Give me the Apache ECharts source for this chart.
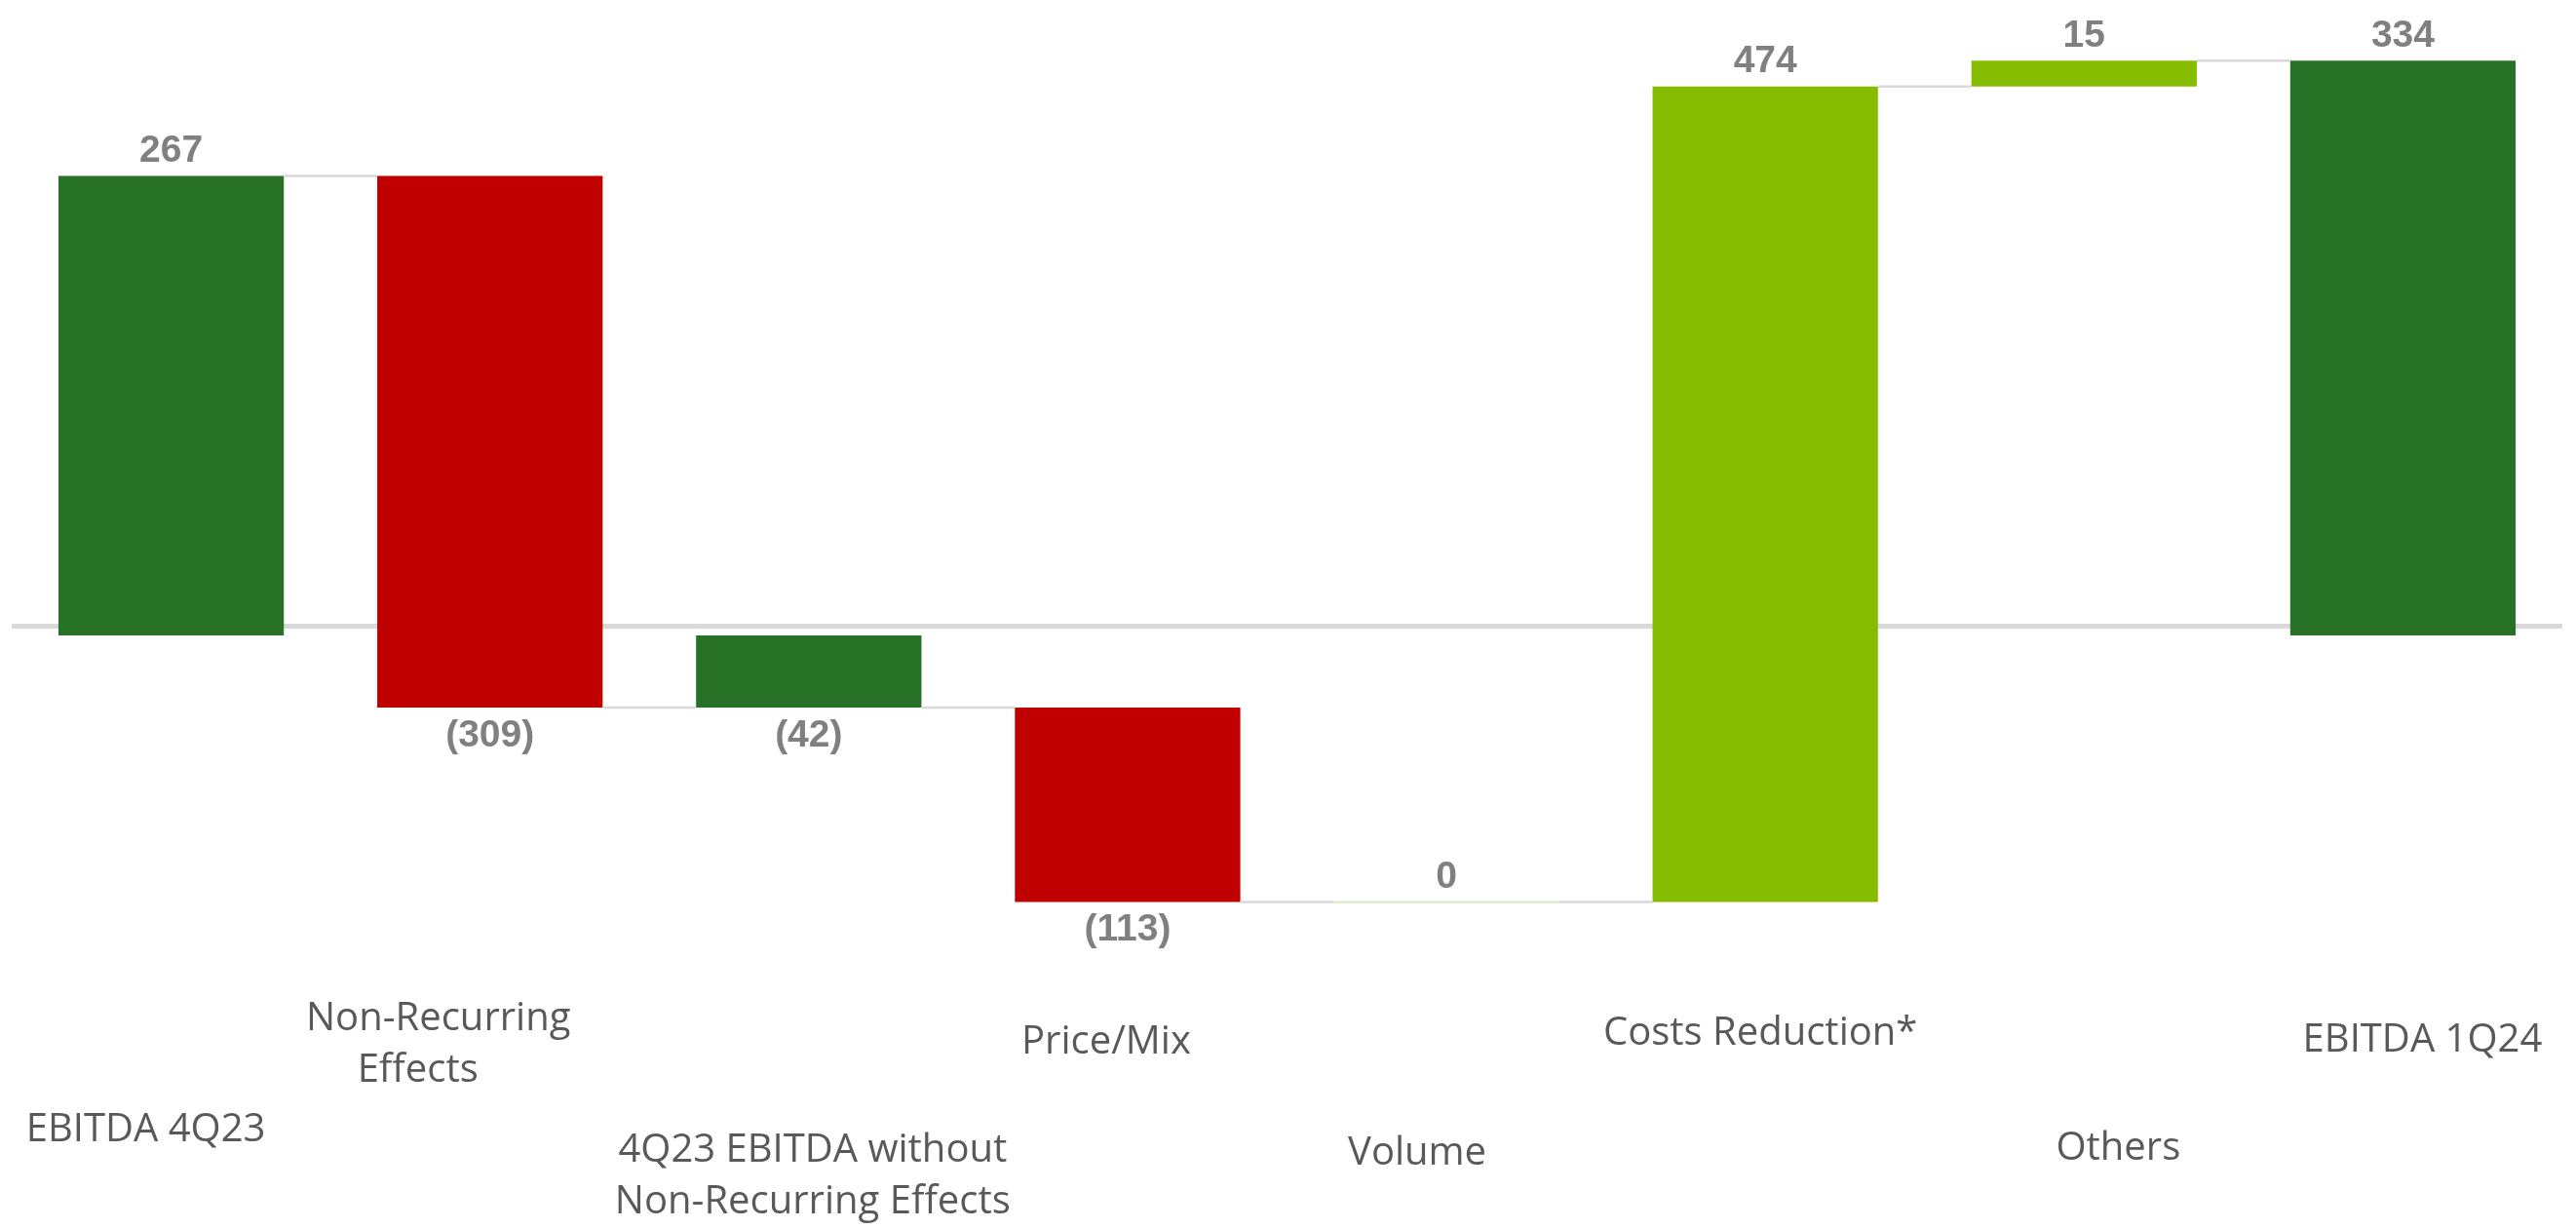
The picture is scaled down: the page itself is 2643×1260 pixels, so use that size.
<!DOCTYPE html>
<html>
<head>
<meta charset="utf-8">
<script src="https://cdn.jsdelivr.net/npm/echarts@6/dist/echarts.min.js"></script>
<style>
  html, body { margin: 0; padding: 0; background: #ffffff; }
  #chart { width: 2643px; height: 1260px; }
</style>
</head>
<body>
<div id="chart"></div>
<script>
// EBITDA bridge: 4Q23 -> 1Q24
const categories = [
  'EBITDA 4Q23',
  'Non-Recurring\nEffects',
  '4Q23 EBITDA without\nNon-Recurring Effects',
  'Price/Mix',
  'Volume',
  'Costs Reduction*',
  'Others',
  'EBITDA 1Q24'
];
const values = [267, -309, -42, -113, 0, 474, 15, 334];
const isTotal = [true, false, true, false, false, false, false, true];

// Caption layout: vertical drop below the plot and horizontal nudge per line (px)
const labelDrop = [128, 14, 149, 38, 152, 29, 147, 36];
const labelShift = [[-26], [-53, -74], [4, 4], [-22], [-30], [-5], [35], [20]];

const COLOR_TOTAL = '#287228';
const COLOR_DOWN = '#C00000';
const COLOR_UP = '#86BC00';
const COLOR_ZERO = '#dcebc8';
const COLOR_CONNECT = '#d9d9d9';
const CAPTION_FONT = { fontFamily: '"Open Sans", sans-serif', fontSize: 40, lineHeight: 53, color: '#595959' };

// running totals -> [index, start, end, value]
let running = 0;
const spans = values.map((v, i) => {
  let s, e;
  if (isTotal[i]) { s = 0; e = v; }
  else { s = running; e = running + v; }
  running = e;
  return [i, s, e, v];
});

function fmt(v) { return v < 0 ? '(' + (-v) + ')' : String(v); }

// rich styles: one per caption line so each line can be nudged on its own
const rich = {};
labelShift.forEach((lines, i) => {
  lines.forEach((dx, j) => {
    rich['c' + i + '_' + j] = Object.assign({}, CAPTION_FONT, {
      padding: dx < 0 ? [0, -2 * dx, 0, 0] : [0, 0, 0, 2 * dx]
    });
  });
});

function renderItem(params, api) {
  const i = api.value(0), s = api.value(1), e = api.value(2), v = api.value(3);
  const band = api.size([1, 0])[0];
  const w = band * 0.707;
  const p0 = api.coord([i, s]);
  const p1 = api.coord([i, e]);
  const x = p0[0] - w / 2;
  const top = Math.min(p0[1], p1[1]);
  const h = Math.abs(p1[1] - p0[1]);
  let fill;
  if (isTotal[i]) fill = COLOR_TOTAL;
  else if (v < 0) fill = COLOR_DOWN;
  else if (v > 0) fill = COLOR_UP;
  else fill = COLOR_ZERO;
  const children = [];
  if (h < 2) {
    children.push({ type: 'rect', shape: { x: x, y: p1[1] - 1, width: w, height: 2.5 }, style: { fill: fill } });
  } else {
    children.push({ type: 'rect', shape: { x: x, y: top, width: w, height: h }, style: { fill: fill } });
  }
  // connector to the next bar at the running level
  if (i < values.length - 1) {
    const nx = api.coord([i + 1, e])[0] - w / 2;
    children.push({
      type: 'line',
      shape: { x1: x + w, y1: p1[1], x2: nx, y2: p1[1] },
      style: { stroke: COLOR_CONNECT, lineWidth: 2.5 }
    });
  }
  const above = v >= 0;
  const ly = above ? top - 25 : top + h + 29;
  children.push({
    type: 'text',
    style: {
      text: fmt(v),
      x: p0[0],
      y: ly,
      align: 'center',
      verticalAlign: 'middle',
      fontFamily: '"Liberation Sans", Arial, sans-serif',
      fontWeight: 'bold',
      fontSize: 39,
      fill: '#808080'
    }
  });
  return { type: 'group', children: children };
}

const chart = echarts.init(document.getElementById('chart'), null, { renderer: 'canvas' });
chart.setOption({
  animation: false,
  backgroundColor: '#ffffff',
  grid: { left: 12, right: 14, top: 34, bottom: 255 },
  xAxis: {
    type: 'category',
    data: categories.map((c, i) => ({ value: c, textStyle: { padding: [labelDrop[i], 0, 0, 0] } })),
    axisLine: { show: false },
    axisTick: { show: false },
    splitLine: { show: false },
    axisLabel: Object.assign({}, CAPTION_FONT, {
      interval: 0,
      margin: 0,
      formatter: (value, index) =>
        value.split('\n').map((line, j) => '{c' + index + '_' + j + '|' + line + '}').join('\n'),
      rich: rich
    })
  },
  yAxis: {
    type: 'value',
    min: -200,
    max: 350,
    interval: 50,
    show: false,
    splitLine: { show: false }
  },
  series: [
    {
      type: 'line',
      data: [],
      z: 1,
      markLine: {
        silent: true,
        z: 1,
        symbol: 'none',
        label: { show: false },
        lineStyle: { color: '#d9d9d9', width: 5, type: 'solid' },
        data: [{ yAxis: 5.5 }]
      }
    },
    {
      type: 'custom',
      z: 3,
      renderItem: renderItem,
      encode: { x: 0, y: [1, 2] },
      data: spans
    }
  ]
});
</script>
</body>
</html>
